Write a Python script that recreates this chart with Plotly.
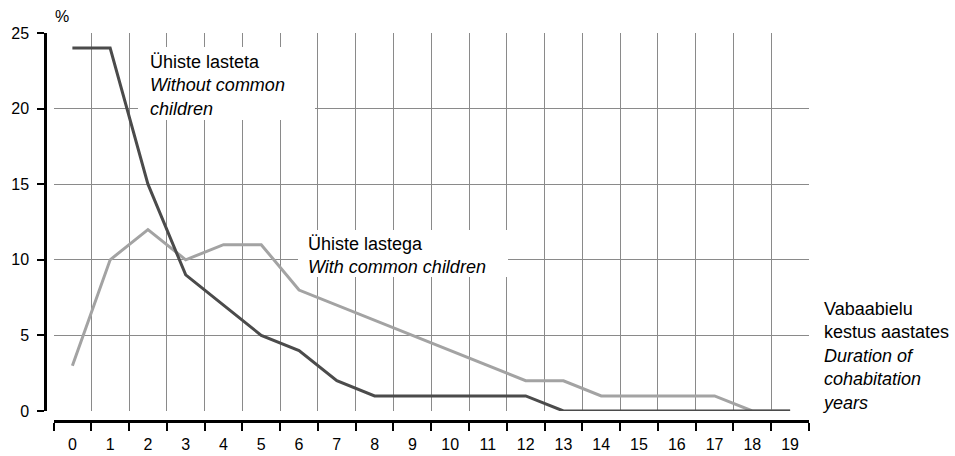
import plotly.graph_objects as go

# Share of cohabitations by duration (years)
years = [str(y) for y in range(20)]
without_children = [24, 24, 15, 9, 7, 5, 4, 2, 1, 1, 1, 1, 1, 0, 0, 0, 0, 0, 0, 0]
with_children = [3, 10, 12, 10, 11, 11, 8, 7, 6, 5, 4, 3, 2, 2, 1, 1, 1, 1, 0, 0]

W, H = 955, 456
ML, MR, MT, MB = 45, 146, 33, 35
PW, PH = W - ML - MR, H - MT - MB


def xp(px):
    return (px - ML) / PW


def yp(py):
    return (H - MB - py) / PH


FONT = "Liberation Sans, Arial, sans-serif"
GRID = "#8a8a8a"

fig = go.Figure()
fig.add_trace(go.Scatter(x=years, y=with_children, mode="lines",
                         line=dict(color="#a3a3a3", width=3), showlegend=False))
fig.add_trace(go.Scatter(x=years, y=without_children, mode="lines",
                         line=dict(color="#4b4b4b", width=3), showlegend=False))

fig.update_layout(
    width=W, height=H,
    margin=dict(l=ML, r=MR, t=MT, b=MB, pad=0, autoexpand=False),
    paper_bgcolor="white", plot_bgcolor="white",
    font=dict(family=FONT, color="black", size=16),
    xaxis=dict(
        type="category", domain=[xp(53.5), 1], anchor="free", position=0,
        range=[-0.5, 19.5], tickson="boundaries", automargin=False,
        showgrid=True, gridcolor=GRID, gridwidth=1,
        showline=True, linecolor="black", linewidth=3,
        ticks="outside", ticklen=8, tickwidth=1.5, tickcolor="black",
        tickfont=dict(size=16), ticklabelstandoff=8,
    ),
    yaxis=dict(
        domain=[yp(411), 1], anchor="free", position=0, automargin=False,
        range=[0, 25], dtick=5, tick0=0,
        showgrid=True, gridcolor=GRID, gridwidth=1, zeroline=False,
        showline=True, linecolor="black", linewidth=2.5,
        ticks="outside", ticklen=7, tickwidth=1.5, tickcolor="black",
        tickfont=dict(size=16), ticklabelstandoff=5,
    ),
    shapes=[
        dict(type="rect", xref="paper", yref="paper", layer="above",
             x0=xp(138), x1=xp(315), y0=yp(120), y1=yp(47),
             fillcolor="white", line=dict(width=0)),
        dict(type="rect", xref="paper", yref="paper", layer="above",
             x0=xp(298), x1=xp(508), y0=yp(277), y1=yp(230),
             fillcolor="white", line=dict(width=0)),
    ],
    annotations=[
        dict(text="%", xref="paper", yref="paper", x=xp(62), y=yp(17),
             xanchor="center", yanchor="middle", showarrow=False,
             font=dict(size=16)),
        dict(text="Ühiste lasteta<br><i>Without common</i><br><i>children</i>",
             xref="paper", yref="paper", x=xp(148), y=yp(50),
             xanchor="left", yanchor="top", align="left", showarrow=False,
             font=dict(size=18)),
        dict(text="Ühiste lastega<br><i>With common children</i>",
             xref="paper", yref="paper", x=xp(306), y=yp(232),
             xanchor="left", yanchor="top", align="left", showarrow=False,
             font=dict(size=18)),
        dict(text="Vabaabielu<br>kestus aastates<br><i>Duration of</i><br>"
                  "<i>cohabitation</i><br><i>years</i>",
             xref="paper", yref="paper", x=xp(820), y=yp(296.5),
             xanchor="left", yanchor="top", align="left", showarrow=False,
             font=dict(size=18)),
    ],
)

fig.write_html("out.html")
